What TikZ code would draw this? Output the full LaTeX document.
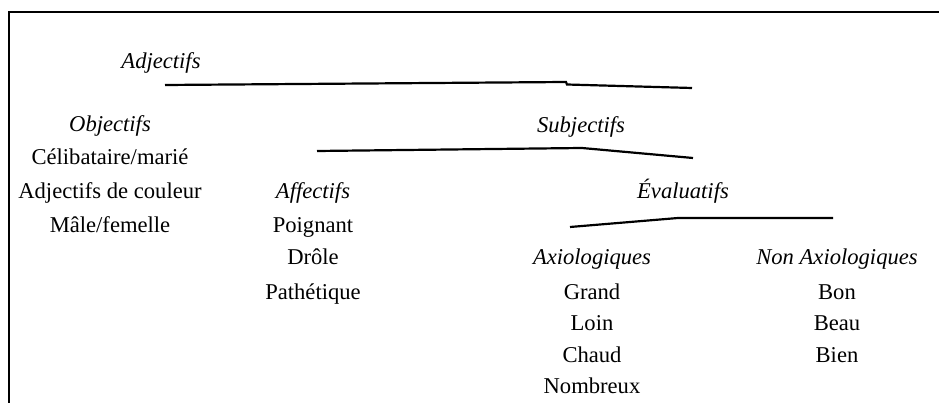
\documentclass[tikz,border=0pt]{standalone}
\usepackage{fontspec}
\setmainfont{Liberation Serif}
\begin{document}
\begin{tikzpicture}[x=1pt,y=-1pt,
  lbl/.style={anchor=base,inner sep=0pt,font=\fontsize{22.6}{27}\selectfont},
  cat/.style={lbl,font=\fontsize{22.6}{27}\selectfont\itshape},
  branch/.style={line width=2.2pt,line join=miter},
  frameline/.style={line width=2pt}]
\useasboundingbox (0,0) rectangle (939,403);
% open frame: top edge and left edge
\coordinate (fTR) at (939,12);
\coordinate (fTL) at (9,12);
\coordinate (fBL) at (9,403);
\draw[frameline] (fTR) -- (fTL) -- (fBL);

% level 0
\node[cat] (adj) at (161,69) {Adjectifs};
\coordinate (a1) at (165,85);
\coordinate (a2) at (566,82);
\coordinate (a3) at (567,84.5);
\coordinate (a4) at (692,88);
\draw[branch] (a1) -- (a2) -- (a3) -- (a4);

% level 1
\node[cat] (obj) at (110,132) {Objectifs};
\node[lbl] (o1) at (110,165) {Célibataire/marié};
\node[lbl] (o2) at (110,199) {Adjectifs de couleur};
\node[lbl] (o3) at (110,233) {Mâle/femelle};

\node[cat] (subj) at (581,133) {Subjectifs};
\coordinate (b1) at (317,151);
\coordinate (b2) at (582,148);
\coordinate (b3) at (693,158);
\draw[branch] (b1) -- (b2) -- (b3);

% level 2
\node[cat] (aff) at (313,199) {Affectifs};
\node[lbl] (f1) at (313,233) {Poignant};
\node[lbl] (f2) at (313,265) {Drôle};
\node[lbl] (f3) at (313,299) {Pathétique};

\node[cat] (eval) at (683,199) {Évaluatifs};
\coordinate (c1) at (570,227);
\coordinate (c2) at (678,218);
\coordinate (c3) at (833,218);
\draw[branch] (c1) -- (c2) -- (c3);

% level 3
\node[cat] (axio) at (592,265) {Axiologiques};
\node[lbl] (x1) at (592,299) {Grand};
\node[lbl] (x2) at (592,330) {Loin};
\node[lbl] (x3) at (592,362) {Chaud};
\node[lbl] (x4) at (592,393) {Nombreux};

\node[cat] (naxio) at (837,265) {Non Axiologiques};
\node[lbl] (n1) at (837,299) {Bon};
\node[lbl] (n2) at (837,330) {Beau};
\node[lbl] (n3) at (837,362) {Bien};
\end{tikzpicture}
\end{document}
